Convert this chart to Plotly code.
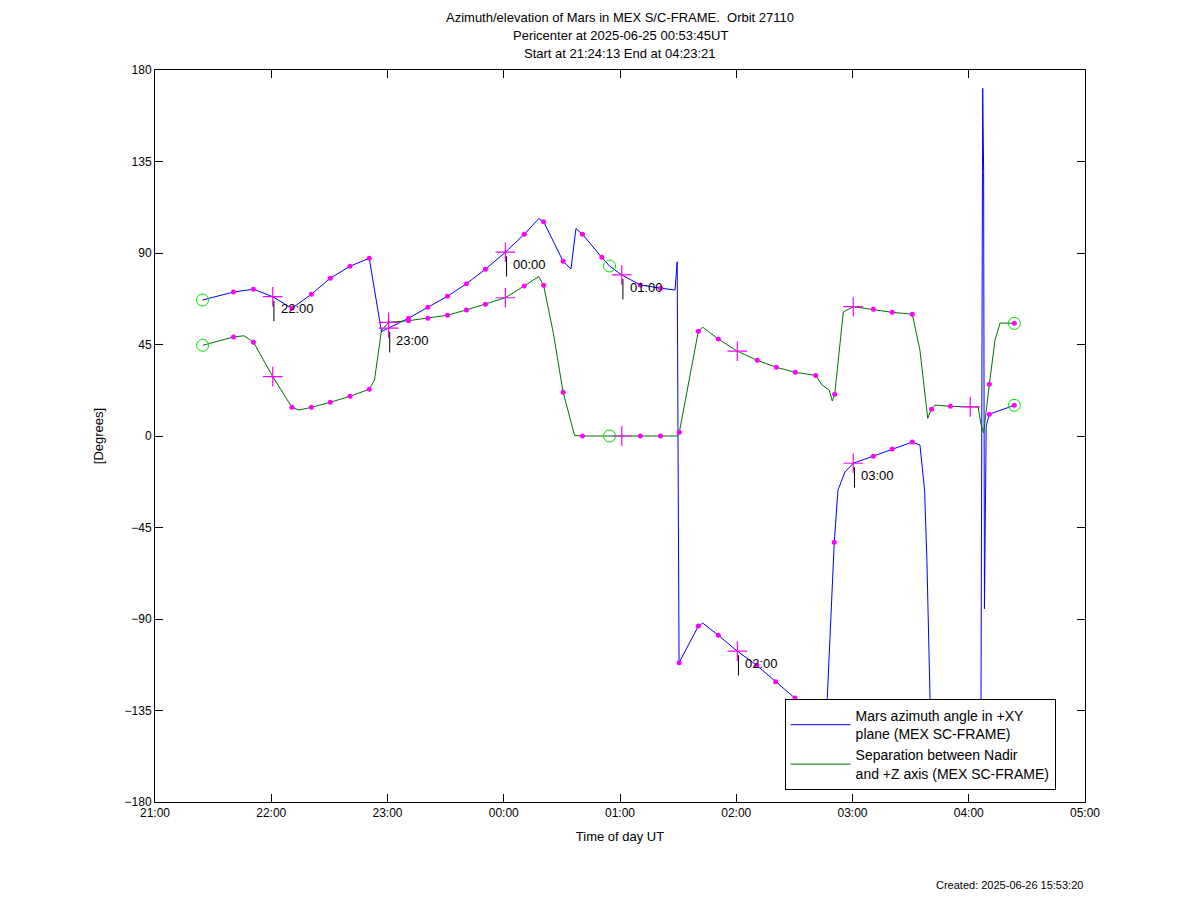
import plotly.graph_objects as go

# hours after 21:00 UT
az_t = [0.409,0.675,0.847,1.013,1.178,1.345,1.508,1.677,1.843,1.948,2.009,2.181,2.347,2.516,2.679,2.842,3.014,3.176,3.301,3.343,3.511,3.578,3.621,3.677,3.843,3.910,4.015,4.175,4.348,4.473,4.492,4.508,4.674,4.711,4.846,5.009,5.176,5.339,5.505,5.62,5.70,5.783,5.843,5.875,5.935,6.007,6.179,6.342,6.514,6.58,6.62,6.64,6.667,6.70,7.10,7.105,7.113,7.12,7.128,7.135,7.15,7.177,7.392]
az_v = [66.9,70.8,72.2,68.5,62.8,69.7,77.6,83.5,87.4,51.3,53.1,57.9,63.3,68.7,74.9,82.0,90.4,99.2,106.9,105.4,85.9,82.1,102.0,99.2,87.9,83.6,79.2,74.3,72.7,71.8,85.7,-111.5,-93.5,-92.0,-98.0,-105.8,-112.8,-120.8,-128.9,-140,-150,-129,-52.3,-26.6,-17.7,-13.4,-10.0,-6.4,-3.0,-4.4,-26.6,-61,-129,-160,-165,-140,0,171,130,-85,5,10.7,15.1]

sep_t = [0.41,0.675,0.766,0.847,1.013,1.178,1.239,1.345,1.508,1.677,1.843,1.888,1.948,2.009,2.181,2.347,2.516,2.679,2.842,3.014,3.176,3.301,3.343,3.427,3.511,3.609,3.677,4.015,4.175,4.348,4.492,4.51,4.674,4.711,4.846,5.009,5.181,5.345,5.508,5.683,5.738,5.80,5.826,5.847,5.921,6.007,6.179,6.342,6.514,6.58,6.647,6.678,6.71,6.842,7.013,7.08,7.105,7.128,7.177,7.226,7.27,7.392]
sep_v = [44.6,48.7,49.3,46.1,29.2,14.1,12.8,14.1,16.6,19.5,23.0,27.5,51.8,55.9,56.7,57.9,59.4,62.0,64.8,68.0,73.8,78.4,74.1,50.5,21.5,0.3,0,0,0,0,0,1.8,51.5,53.5,47.7,41.7,37.2,33.8,31.3,29.8,25.1,22.6,17.2,20.5,61.0,63.6,62.3,60.8,59.9,42.3,8.7,13.1,15.2,14.6,14.3,14.3,5.9,1.5,25.4,47.2,55.6,55.4]

dot_t = [0.675,0.847,1.178,1.345,1.508,1.677,1.843,2.181,2.347,2.516,2.679,2.842,3.176,3.343,3.511,3.677,3.843,4.175,4.348,4.508,4.674,4.846,5.176,5.339,5.505,5.843,6.179,6.342,6.514,7.177,7.392,
         0.675,0.847,1.178,1.345,1.508,1.677,1.843,2.181,2.347,2.516,2.679,2.842,3.176,3.343,3.511,3.677,4.175,4.348,4.51,4.674,4.846,5.181,5.345,5.508,5.683,5.847,6.179,6.342,6.514,6.68,6.842,7.177,7.392]
dot_v = [70.8,72.2,62.8,69.7,77.6,83.5,87.4,57.9,63.3,68.7,74.9,82.0,99.2,105.4,85.9,99.2,87.9,74.3,72.7,-111.5,-93.5,-98.0,-112.8,-120.8,-128.9,-52.3,-10.0,-6.4,-3.0,10.7,15.1,
         48.7,46.1,14.1,14.1,16.6,19.5,23.0,56.7,57.9,59.4,62.0,64.8,73.8,74.1,21.5,0,0,0,1.8,51.5,47.7,37.2,33.8,31.3,29.8,20.5,62.3,60.8,59.9,13.1,14.6,25.4,55.4]

cross_t = [1.013,2.009,3.014,4.015,5.009,6.007, 1.013,2.009,3.014,4.015,5.009,6.007,7.013]
cross_v = [68.5,53.1,90.4,79.2,-105.8,-13.4, 29.2,55.9,68.0,0,41.7,63.6,14.3]

circ_t = [0.409,3.91,7.392,0.41,3.91,7.392]
circ_v = [66.9,83.6,15.1,44.6,0,55.4]

lab_t = [1.013,2.009,3.014,4.015,5.009,6.007]
lab_v = [68.5,53.1,90.4,79.2,-105.8,-13.4]
lab_txt = ["22:00","23:00","00:00","01:00","02:00","03:00"]

title_lines = ["Azimuth/elevation of Mars in MEX S/C-FRAME.  Orbit 27110",
               "Pericenter at 2025-06-25 00:53:45UT",
               "Start at 21:24:13 End at 04:23:21"]

x_ticks = [0,1,2,3,4,5,6,7,8]
x_labels = ["21:00","22:00","23:00","00:00","01:00","02:00","03:00","04:00","05:00"]
y_ticks = [-180,-135,-90,-45,0,45,90,135,180]

fig = go.Figure()
fig.add_trace(go.Scatter(x=az_t, y=az_v, mode="lines", line=dict(color="#0000ff", width=1),
                         name="Mars azimuth angle in +XY<br>plane (MEX SC-FRAME)"))
fig.add_trace(go.Scatter(x=sep_t, y=sep_v, mode="lines", line=dict(color="#007000", width=1),
                         name="Separation between Nadir<br>and +Z axis (MEX SC-FRAME)"))
fig.add_trace(go.Scatter(x=dot_t, y=dot_v, mode="markers", showlegend=False,
                         marker=dict(color="#ff00ff", size=5, symbol="circle")))
fig.add_trace(go.Scatter(x=cross_t, y=cross_v, mode="markers", showlegend=False,
                         marker=dict(color="#ff00ff", size=14, symbol="cross-thin",
                                     line=dict(color="#ff00ff", width=1.2))))
fig.add_trace(go.Scatter(x=circ_t, y=circ_v, mode="markers", showlegend=False,
                         marker=dict(color="rgba(0,0,0,0)", size=12, symbol="circle",
                                     line=dict(color="#00e000", width=1))))

for t, v, s in zip(lab_t, lab_v, lab_txt):
    fig.add_shape(type="line", x0=t + 0.01, x1=t + 0.01, y0=v - 2, y1=v - 12,
                  line=dict(color="black", width=1), layer="above")
    fig.add_annotation(x=t + 0.05, y=v - 6, text=s, showarrow=False, xanchor="left",
                       yanchor="middle", font=dict(size=13, color="black"))

H = 893
for i, s in enumerate(title_lines):
    fig.add_annotation(xref="paper", yref="paper", x=0.5, xanchor="center", yanchor="middle",
                       y=1 + (62 - (9 + 18.5 * i)) / 732, text=s, showarrow=False,
                       font=dict(size=13, color="black"))

fig.add_annotation(xref="paper", yref="paper", x=1.0, y=-0.103, xanchor="right", yanchor="top",
                   text="Created: 2025-06-26 15:53:20", showarrow=False, font=dict(size=11, color="black"))

axis_common = dict(showgrid=False, zeroline=False, ticks="inside", ticklen=8, mirror="ticks",
                   showline=True, linecolor="black", linewidth=1, tickcolor="black",
                   tickfont=dict(size=12, color="black"))
fig.update_xaxes(range=[0, 8], tickvals=x_ticks, ticktext=x_labels,
                 title=dict(text="Time of day UT", font=dict(size=13, color="black"), standoff=12), **axis_common)
fig.update_yaxes(range=[-180, 180], tickvals=y_ticks,
                 title=dict(text="[Degrees]", font=dict(size=13, color="black"), standoff=18), **axis_common)

fig.update_layout(
    width=1192, height=H,
    margin=dict(l=147, r=115, t=62, b=99),
    paper_bgcolor="white", plot_bgcolor="white",
    font=dict(family="Liberation Sans, DejaVu Sans, sans-serif", size=12, color="black"),
    legend=dict(x=0.677, y=0.1407, xanchor="left", yanchor="top", bgcolor="white",
                bordercolor="black", borderwidth=1, font=dict(size=14, color="black"),
                itemwidth=60, tracegroupgap=6),
    showlegend=True,
)
fig.write_html("out.html")
